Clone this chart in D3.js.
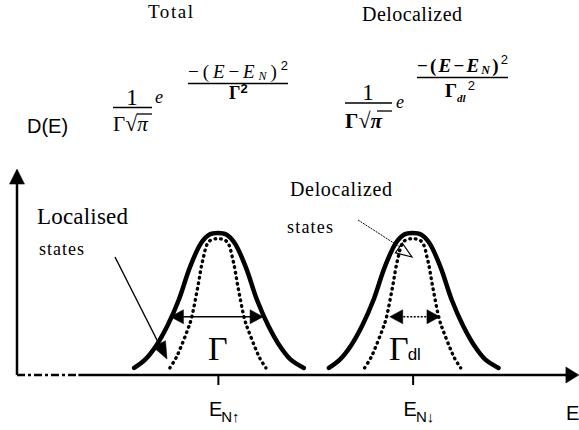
<!DOCTYPE html>
<html><head><meta charset="utf-8">
<script src="https://cdn.jsdelivr.net/npm/d3@7"></script>
<style>body{margin:0;background:#fff} svg{display:block}</style>
</head><body><svg id="c" width="579" height="430"></svg>
<script>
// ---- data ----
const energyDomain = [0, 100];
const densityDomain = [0, 1];
const peakCenters = [36.0, 70.9];
const tickMain = ["E", "E"];
const tickSub = ["N\u2191", "N\u2193"];
const profileDE = [-15, -13, -11, -9, -7, -5, -3, -1.5, 0, 1.5, 3, 5, 7, 9, 11, 13, 15.4];
const totalD    = [0.05, 0.11, 0.21, 0.35, 0.53, 0.76, 0.93, 0.99, 1.0, 0.99, 0.93, 0.76, 0.53, 0.35, 0.21, 0.11, 0.05];
const dottedDE  = [-8.6, -7.5, -6.6, -5.5, -4.8, -3.6, -2.7, -1.6, 0, 1.6, 2.7, 3.6, 4.8, 5.5, 6.6, 7.5, 8.6];
const dottedD   = [0.05, 0.12, 0.20, 0.31, 0.39, 0.62, 0.81, 0.94, 0.96, 0.94, 0.81, 0.62, 0.39, 0.31, 0.20, 0.12, 0.05];
const gammaArrowD = 0.41;
const gammaArrowDE = [-8.5, 8.1];
const gammaDlArrowDE = [-4.1, 4.9];
const yAxisTop = 1.45;
const xAxisEnd = 100.7;
const dashDotEnd = 11;

const svg = d3.select("#c");
const x = d3.scaleLinear().domain(energyDomain).range([17, 575]);
const y = d3.scaleLinear().domain(densityDomain).range([375, 233]);
const serif = "'Liberation Serif','Times New Roman',serif";
const sans = "'Liberation Sans',Arial,sans-serif";

function arrowHead(tx, ty, fx, fy, len, hw, fill) {
  const dx = tx - fx, dy = ty - fy, L = Math.hypot(dx, dy);
  const ux = dx / L, uy = dy / L, bx = tx - ux * len, by = ty - uy * len;
  const pts = [[tx, ty], [bx - uy * hw, by + ux * hw], [bx + uy * hw, by - ux * hw]];
  svg.append("path").attr("d", "M" + pts.join("L") + "Z")
    .attr("fill", fill ? "#000" : "none").attr("stroke", "#000")
    .attr("stroke-width", fill ? 0.5 : 1.2).attr("stroke-linejoin", "miter");
}

// ---- axes ----
const y0 = y(0);
svg.append("line").attr("x1", x(0)).attr("x2", x(0)).attr("y1", y0).attr("y2", y(yAxisTop) + 10)
  .attr("stroke", "#000").attr("stroke-width", 2.5);
arrowHead(x(0), y(yAxisTop), x(0), y0, 15, 7.5, true);
svg.append("line").attr("x1", x(0)).attr("x2", x(dashDotEnd)).attr("y1", y0).attr("y2", y0)
  .attr("stroke", "#000").attr("stroke-width", 2.5).attr("stroke-dasharray", "8,3,3,3");
svg.append("line").attr("x1", x(dashDotEnd)).attr("x2", x(xAxisEnd) - 8).attr("y1", y0).attr("y2", y0)
  .attr("stroke", "#000").attr("stroke-width", 2.5);
arrowHead(x(xAxisEnd), y0, x(0), y0, 13, 8, true);

const axis = d3.axisBottom(x).tickValues(peakCenters).tickSize(10).tickFormat("");
const ag = svg.append("g").attr("transform", `translate(0,${y0})`).call(axis);
ag.select(".domain").remove();
ag.selectAll(".tick line").attr("stroke", "#000").attr("stroke-width", 2);

// tick labels
peakCenters.forEach((c, i) => {
  const t = svg.append("text").attr("x", x(c) - 9).attr("y", 416)
    .attr("font-family", sans).attr("font-size", 20);
  t.append("tspan").text(tickMain[i]);
  t.append("tspan").attr("font-size", 15).attr("dy", 6).attr("dx", -1).text(tickSub[i]);
});
svg.append("text").attr("x", 566).attr("y", 420).attr("font-family", sans).attr("font-size", 20).text("E");

// ---- curves ----
const line = d3.line().curve(d3.curveCatmullRom.alpha(0.5));
peakCenters.forEach(c => {
  svg.append("path").attr("d", line(profileDE.map((d, i) => [x(c + d), y(totalD[i])])))
    .attr("fill", "none").attr("stroke", "#000").attr("stroke-width", 4.5).attr("stroke-linecap", "round");
  svg.append("path").attr("d", line(dottedDE.map((d, i) => [x(c + d), y(dottedD[i])])))
    .attr("fill", "none").attr("stroke", "#000").attr("stroke-width", 3.4)
    .attr("stroke-linecap", "round").attr("stroke-dasharray", "0.6,5");
});

// Gamma arrows
{
  const c = peakCenters[0], ya = y(gammaArrowD);
  const x1 = x(c + gammaArrowDE[0]), x2 = x(c + gammaArrowDE[1]);
  svg.append("line").attr("x1", x1 + 8).attr("x2", x2 - 8).attr("y1", ya).attr("y2", ya)
    .attr("stroke", "#000").attr("stroke-width", 1.5);
  arrowHead(x1, ya, x2, ya, 13, 7, true);
  arrowHead(x2, ya, x1, ya, 13, 7, true);
  svg.append("text").attr("x", x(c)).attr("y", 360).attr("text-anchor", "middle")
    .attr("font-family", serif).attr("font-size", 34).text("\u0393");
}
{
  const c = peakCenters[1], ya = y(gammaArrowD);
  const x1 = x(c + gammaDlArrowDE[0]), x2 = x(c + gammaDlArrowDE[1]);
  svg.append("line").attr("x1", x1 + 10).attr("x2", x2 - 10).attr("y1", ya).attr("y2", ya)
    .attr("stroke", "#000").attr("stroke-width", 1.6).attr("stroke-dasharray", "2,1.5");
  arrowHead(x1, ya, x2, ya, 13, 7, true);
  arrowHead(x2, ya, x1, ya, 13, 7, true);
  const t = svg.append("text").attr("x", 389).attr("y", 360).attr("font-family", serif).attr("font-size", 34);
  t.append("tspan").text("\u0393");
  t.append("tspan").attr("font-family", sans).attr("font-size", 17).attr("dx", -1).text("dl");
}

// pointers
svg.append("line").attr("x1", 115).attr("y1", 257).attr("x2", 160).attr("y2", 346)
  .attr("stroke", "#000").attr("stroke-width", 1.4);
arrowHead(167, 359, 115, 257, 17, 7, true);
svg.append("line").attr("x1", 358).attr("y1", 220).attr("x2", 400).attr("y2", 247)
  .attr("stroke", "#000").attr("stroke-width", 1).attr("stroke-dasharray", "2,1");
arrowHead(412, 257, 358, 220, 16, 6, false);

// labels
svg.append("text").attr("x", 37).attr("y", 224).attr("font-family", serif).attr("font-size", 23)
  .attr("textLength", 91).attr("lengthAdjust", "spacing").text("Localised");
svg.append("text").attr("x", 39).attr("y", 255).attr("font-family", serif).attr("font-size", 18)
  .attr("textLength", 45).attr("lengthAdjust", "spacing").text("states");
svg.append("text").attr("x", 290).attr("y", 196).attr("font-family", serif).attr("font-size", 20)
  .attr("textLength", 102).attr("lengthAdjust", "spacing").text("Delocalized");
svg.append("text").attr("x", 287).attr("y", 233).attr("font-family", serif).attr("font-size", 18)
  .attr("textLength", 46).attr("lengthAdjust", "spacing").text("states");

// ---- header & formulas ----
svg.append("text").attr("x", 148).attr("y", 18).attr("font-family", serif).attr("font-size", 19)
  .attr("textLength", 45).attr("lengthAdjust", "spacing").text("Total");
svg.append("text").attr("x", 362).attr("y", 21).attr("font-family", serif).attr("font-size", 20)
  .attr("textLength", 100).attr("lengthAdjust", "spacing").text("Delocalized");
svg.append("text").attr("x", 27).attr("y", 133).attr("font-family", sans).attr("font-size", 20).text("D(E)");

function prefactor(cx, x0, x1, yOne, yBar, yDen, bold) {
  svg.append("text").attr("x", cx).attr("y", yOne).attr("text-anchor", "middle")
    .attr("font-family", serif).attr("font-size", 23).text("1");
  svg.append("line").attr("x1", x0).attr("x2", x1).attr("y1", yBar).attr("y2", yBar)
    .attr("stroke", "#000").attr("stroke-width", 1.4);
  const t = svg.append("text").attr("x", x0).attr("y", yDen).attr("font-family", serif)
    .attr("font-size", 21).attr("font-weight", bold ? "bold" : "normal");
  t.append("tspan").text("\u0393");
  t.append("tspan").attr("font-size", 22).text("\u221A");
  t.append("tspan").attr("font-style", "italic").text("\u03C0");
  svg.append("line").attr("x1", x1 - 15).attr("x2", x1).attr("y1", yDen - 17).attr("y2", yDen - 17)
    .attr("stroke", "#000").attr("stroke-width", 1.3);
}
function exponent(x0, x1, yNum, yBar, bold) {
  const t = svg.append("text").attr("x", x0).attr("y", yNum).attr("font-family", serif)
    .attr("font-size", 19).attr("font-style", "italic").attr("font-weight", bold ? "bold" : "normal")
    .attr("textLength", x1 - x0).attr("lengthAdjust", "spacing");
  t.append("tspan").attr("font-style", "normal").text("\u2212(");
  t.append("tspan").text("E");
  t.append("tspan").attr("font-style", "normal").text("\u2212");
  t.append("tspan").text("E");
  t.append("tspan").attr("font-size", 12).attr("dy", 2).text("N");
  t.append("tspan").attr("font-style", "normal").attr("dy", -2).text(")");
  t.append("tspan").attr("font-family", sans).attr("font-style", "normal").attr("font-weight", "normal")
    .attr("font-size", 13).attr("dy", -8).text("2");
  svg.append("line").attr("x1", x0).attr("x2", x1).attr("y1", yBar).attr("y2", yBar)
    .attr("stroke", "#000").attr("stroke-width", 1.4);
}

// total formula
prefactor(132, 113, 152, 105, 107.5, 131, false);
svg.append("text").attr("x", 155).attr("y", 103).attr("font-family", serif).attr("font-style", "italic")
  .attr("font-size", 18).text("e");
exponent(188, 288, 78, 83.5, false);
{
  const t = svg.append("text").attr("x", 229).attr("y", 99).attr("font-family", serif)
    .attr("font-size", 18).attr("font-weight", "bold");
  t.append("tspan").text("\u0393");
  t.append("tspan").attr("font-family", sans).attr("font-size", 13).attr("dy", -6).text("2");
}
// delocalized formula
prefactor(368, 345, 392, 100, 103, 128, true);
svg.append("text").attr("x", 396).attr("y", 108).attr("font-family", serif).attr("font-style", "italic")
  .attr("font-size", 18).text("e");
exponent(417, 508, 72, 77.5, true);
{
  const t = svg.append("text").attr("x", 445).attr("y", 97).attr("font-family", serif)
    .attr("font-size", 19).attr("font-weight", "bold");
  t.append("tspan").text("\u0393");
  t.append("tspan").attr("font-size", 11).attr("font-style", "italic").attr("dy", 5).text("dl");
  t.append("tspan").attr("font-family", sans).attr("font-weight", "normal").attr("font-size", 13)
    .attr("dx", 2).attr("dy", -12).text("2");
}
</script></body></html>
